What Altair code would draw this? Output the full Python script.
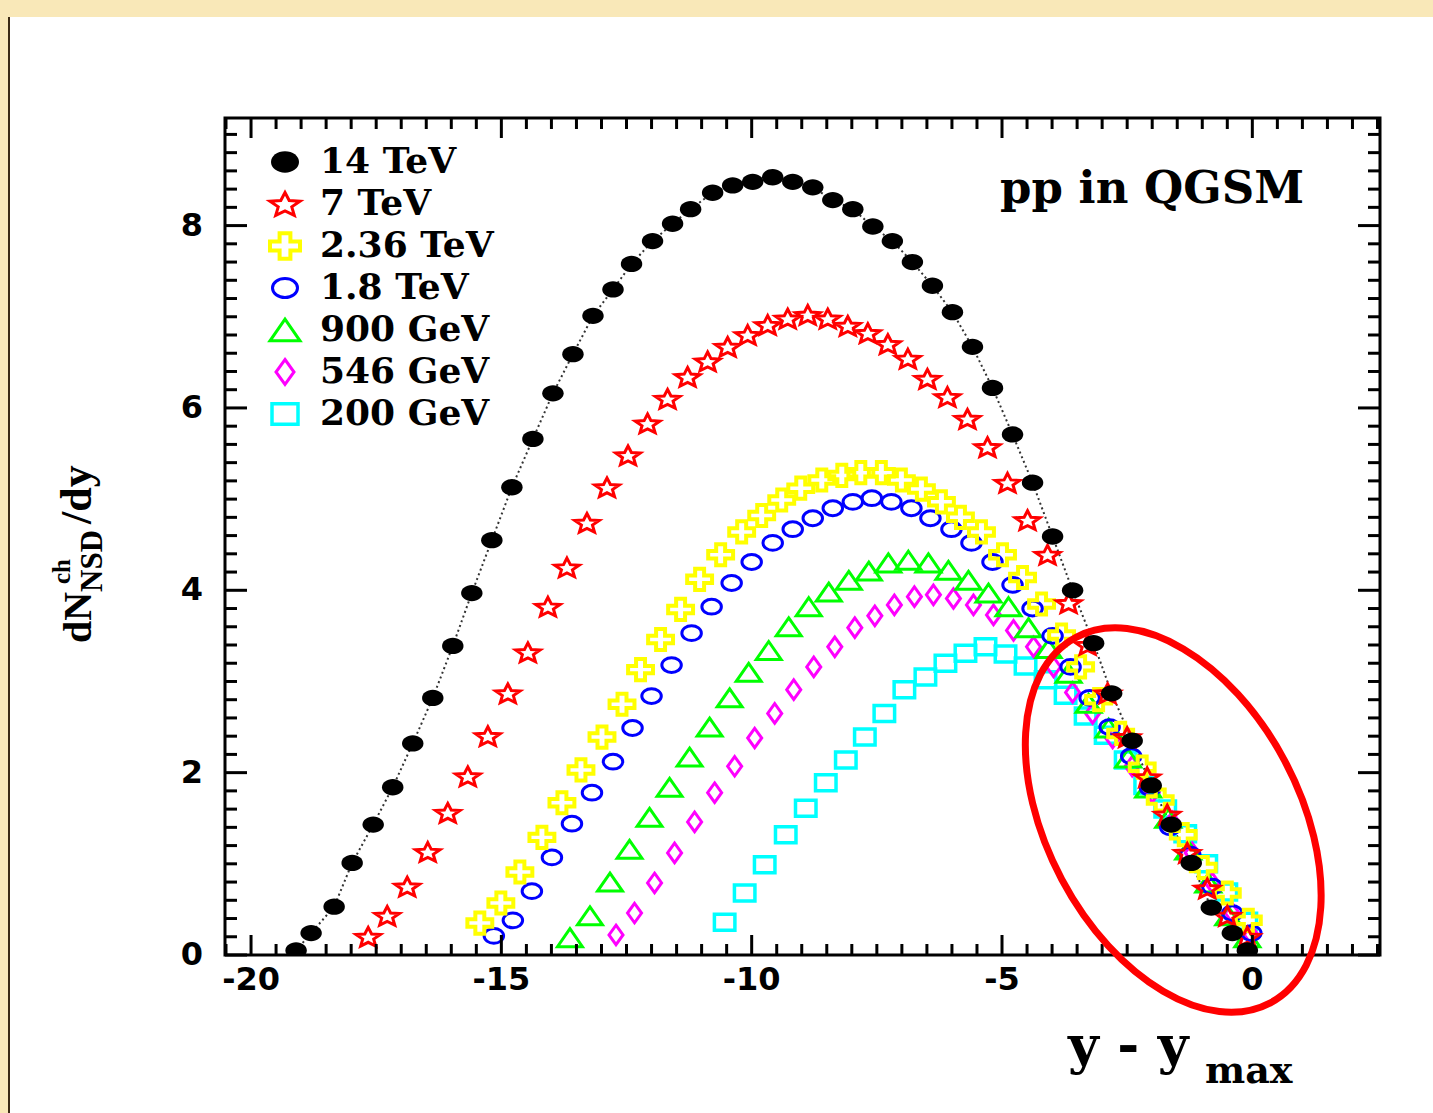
import altair as alt
import pandas as pd

# ---- charged-particle rapidity spectra, dN/dy vs (y - y_max) ----
x_14tev = [-19.10, -18.80, -18.34, -17.98, -17.56, -17.17, -16.77, -16.37, -15.97, -15.59,
           -15.19, -14.79, -14.37, -13.97, -13.57, -13.17, -12.77, -12.40, -11.98, -11.58,
           -11.22, -10.78, -10.38, -9.98, -9.58, -9.18, -8.78, -8.38, -7.98, -7.58,
           -7.19, -6.79, -6.39, -5.99, -5.59, -5.19, -4.79, -4.39, -3.99, -3.59,
           -3.17, -2.81, -2.40, -2.02, -1.62, -1.22, -0.82, -0.40, -0.10]
y_14tev = [0.05, 0.24, 0.53, 1.01, 1.43, 1.84, 2.32, 2.82, 3.39, 3.97,
           4.55, 5.13, 5.66, 6.16, 6.59, 7.01, 7.30, 7.58, 7.83, 8.02,
           8.18, 8.36, 8.44, 8.48, 8.53, 8.48, 8.42, 8.28, 8.18, 7.99,
           7.83, 7.60, 7.34, 7.05, 6.67, 6.22, 5.71, 5.18, 4.59, 4.00,
           3.42, 2.87, 2.35, 1.86, 1.43, 1.01, 0.52, 0.24, 0.05]

x_7tev = [-17.66, -17.28, -16.88, -16.47, -16.07, -15.67, -15.27, -14.87, -14.47, -14.07,
          -13.69, -13.29, -12.89, -12.47, -12.08, -11.68, -11.28, -10.88, -10.48, -10.08,
          -9.68, -9.28, -8.88, -8.48, -8.08, -7.68, -7.28, -6.88, -6.49, -6.09,
          -5.69, -5.29, -4.89, -4.49, -4.09, -3.67, -3.29, -2.89, -2.50, -2.10,
          -1.70, -1.30, -0.90, -0.50, -0.10]
y_7tev = [0.20, 0.43, 0.75, 1.13, 1.56, 1.96, 2.40, 2.87, 3.32, 3.82,
          4.25, 4.74, 5.13, 5.48, 5.83, 6.10, 6.34, 6.51, 6.67, 6.80,
          6.91, 6.98, 7.02, 6.98, 6.90, 6.82, 6.70, 6.54, 6.32, 6.12,
          5.88, 5.57, 5.18, 4.77, 4.39, 3.86, 3.40, 2.87, 2.39, 1.95,
          1.54, 1.12, 0.73, 0.43, 0.20]

x_236tev = [-15.43, -15.01, -14.63, -14.19, -13.79, -13.41, -12.99, -12.59, -12.22, -11.82,
            -11.42, -11.04, -10.62, -10.20, -9.80, -9.40, -9.02, -8.60, -8.20, -7.82,
            -7.41, -7.01, -6.61, -6.21, -5.83, -5.41, -4.99, -4.59, -4.21, -3.81,
            -3.43, -3.07, -2.63, -2.20, -1.84, -1.38, -0.98, -0.50, -0.08]
y_236tev = [0.35, 0.57, 0.91, 1.29, 1.67, 2.03, 2.39, 2.75, 3.13, 3.46,
            3.79, 4.12, 4.39, 4.64, 4.82, 4.99, 5.12, 5.21, 5.26, 5.29,
            5.29, 5.21, 5.11, 4.97, 4.80, 4.64, 4.39, 4.14, 3.85, 3.51,
            3.16, 2.80, 2.43, 2.06, 1.70, 1.32, 0.96, 0.68, 0.38]

x_18tev = [-15.15, -14.77, -14.39, -13.99, -13.59, -13.19, -12.77, -12.38, -12.00, -11.60,
           -11.20, -10.80, -10.40, -10.00, -9.58, -9.18, -8.78, -8.38, -7.98, -7.60,
           -7.21, -6.81, -6.43, -6.01, -5.61, -5.19, -4.79, -4.39, -3.99, -3.63,
           -3.25, -2.85, -2.42, -2.04, -1.64, -1.24, -0.80, -0.40, -0.02]
y_18tev = [0.21, 0.38, 0.70, 1.07, 1.44, 1.78, 2.12, 2.49, 2.84, 3.18,
           3.53, 3.82, 4.08, 4.31, 4.52, 4.67, 4.79, 4.90, 4.97, 5.01,
           4.97, 4.90, 4.79, 4.67, 4.52, 4.31, 4.06, 3.80, 3.50, 3.16,
           2.82, 2.50, 2.18, 1.83, 1.40, 1.10, 0.75, 0.46, 0.24]

x_900gev = [-13.63, -13.23, -12.83, -12.44, -12.04, -11.64, -11.24, -10.84, -10.44, -10.06,
            -9.66, -9.26, -8.86, -8.46, -8.06, -7.66, -7.27, -6.87, -6.47, -6.07,
            -5.67, -5.27, -4.87, -4.47, -4.07, -3.67, -3.27, -2.87, -2.48, -2.08,
            -1.68, -1.28, -0.88, -0.48, -0.10]
y_900gev = [0.19, 0.43, 0.80, 1.16, 1.51, 1.84, 2.17, 2.50, 2.82, 3.10,
            3.34, 3.60, 3.82, 3.98, 4.11, 4.21, 4.30, 4.33, 4.30, 4.22,
            4.11, 3.97, 3.82, 3.59, 3.36, 3.09, 2.76, 2.49, 2.16, 1.83,
            1.50, 1.15, 0.79, 0.43, 0.19]

x_546gev = [-12.71, -12.34, -11.94, -11.54, -11.14, -10.74, -10.34, -9.94, -9.54, -9.16,
            -8.76, -8.34, -7.94, -7.54, -7.15, -6.75, -6.37, -5.97, -5.57, -5.17,
            -4.77, -4.37, -3.97, -3.59, -3.19, -2.79, -2.40, -2.00, -1.60, -1.20,
            -0.80, -0.40, -0.02]
y_546gev = [0.22, 0.46, 0.79, 1.12, 1.46, 1.78, 2.07, 2.38, 2.65, 2.91,
            3.16, 3.38, 3.59, 3.72, 3.84, 3.93, 3.95, 3.91, 3.84, 3.73,
            3.56, 3.38, 3.16, 2.88, 2.65, 2.38, 2.07, 1.78, 1.46, 1.12,
            0.79, 0.46, 0.22]

x_200gev = [-10.54, -10.14, -9.74, -9.32, -8.92, -8.52, -8.12, -7.74, -7.35, -6.95,
            -6.53, -6.13, -5.73, -5.33, -4.93, -4.53, -4.13, -3.73, -3.33, -2.93,
            -2.53, -2.14, -1.74, -1.34, -0.92, -0.52, -0.12]
y_200gev = [0.36, 0.68, 0.99, 1.32, 1.61, 1.89, 2.14, 2.39, 2.65, 2.91,
            3.05, 3.20, 3.31, 3.38, 3.30, 3.17, 3.02, 2.85, 2.62, 2.41,
            2.14, 1.86, 1.60, 1.33, 1.00, 0.69, 0.37]

labels = ["14 TeV", "7 TeV", "2.36 TeV", "1.8 TeV", "900 GeV", "546 GeV", "200 GeV"]
colors = ["#000000", "#FF0000", "#FFFF00", "#0000FF", "#00FF00", "#FF00FF", "#00FFFF"]

# axis ticks and their labels
x_major = [-20, -15, -10, -5, 0]
x_tick_labels = ["-20", "-15", "-10", "-5", "0"]
y_major = [0, 2, 4, 6, 8]
y_tick_labels = ["0", "2", "4", "6", "8"]
x_minor = [round(-20.5 + 0.5 * i, 2) for i in range(47) if (-20.5 + 0.5 * i) % 5 != 0]
y_minor = [round(0.2 * i, 2) for i in range(46) if round(0.2 * i, 2) % 2 != 0]

# highlighted region (centre of the red ring, data units)
ring_x = [-1.58]
ring_y = [1.48]

# marker outlines in a unit box (scaled by the symbol size)
DOT = "M -1 0 A 1 0.76 0 1 1 1 0 A 1 0.76 0 1 1 -1 0 Z"
STAR = ("M 0 -0.73 L 0.265 -0.22 L 0.951 -0.18 L 0.428 0.18 L 0.588 0.72 L 0 0.43 "
        "L -0.588 0.72 L -0.428 0.18 L -0.951 -0.18 L -0.265 -0.22 Z")
CROSS = ("M -0.36 -0.85 L 0.36 -0.85 L 0.36 -0.3 L 1 -0.3 L 1 0.3 L 0.36 0.3 L 0.36 0.85 "
         "L -0.36 0.85 L -0.36 0.3 L -1 0.3 L -1 -0.3 L -0.36 -0.3 Z")
TRIANGLE = "M 0 -0.72 L 1 0.72 L -1 0.72 Z"
DIAMOND = "M 0 -1 L 0.72 0 L 0 1 L -0.72 0 Z"
SQUARE = "M -1 -0.78 L 1 -0.78 L 1 0.78 L -1 0.78 Z"
RING = "M 0 -1 A 0.61 1 0 1 1 0 1 A 0.61 1 0 1 1 0 -1 Z"

W, H = 1155, 837
xs = alt.Scale(domain=[-20.52, 2.55], nice=False, zero=False)
ys = alt.Scale(domain=[0, 9.18], nice=False, zero=False)

SERIF = "DejaVu Serif"
SANS = "DejaVu Sans"
one = pd.DataFrame({"k": [0]})


def rect(x0, x1, y0, y1, color):
    return alt.Chart(one).mark_rect(color=color).encode(
        x=alt.value(x0), x2=alt.value(x1), y=alt.value(y0), y2=alt.value(y1))


def text(t, x, y, size, font, angle=0, align="left", baseline="alphabetic"):
    df = pd.DataFrame({"t": [t]})
    return alt.Chart(df).mark_text(
        text=t, align=align, baseline=baseline, font=font, fontSize=size,
        fontWeight="bold", angle=angle, color="black"
    ).encode(x=alt.value(x), y=alt.value(y))


def series(xv, yv, shape, color, size, filled, sw):
    df = pd.DataFrame({"x": xv, "y": yv})
    if filled:
        mk = alt.Chart(df).mark_point(shape=shape, size=size, filled=True, color=color,
                                      strokeWidth=0, opacity=1, clip=True)
    else:
        mk = alt.Chart(df).mark_point(shape=shape, size=size, filled=False, color=color,
                                      strokeWidth=sw, strokeJoin="miter", opacity=1, clip=True)
    return mk.encode(x=alt.X("x:Q", scale=xs, axis=None),
                     y=alt.Y("y:Q", scale=ys, axis=None))


# background of the slide
layers = [
    rect(-225, 1208, -118, -101, "#F9E8B8"),
    rect(-225, -217, -101, 995, "#F9E8B8"),
    rect(-217, -215, -101, 995, "#3A2A14"),
]

# dotted guide through the 14 TeV points
line_df = pd.DataFrame({"x": x_14tev, "y": y_14tev})
layers.append(
    alt.Chart(line_df).mark_line(color="#333333", strokeWidth=2, strokeDash=[2, 3]).encode(
        x=alt.X("x:Q", scale=xs, axis=None),
        y=alt.Y("y:Q", scale=ys, axis=None),
    )
)

styles = {
    "14 TeV": (DOT, 460, True, 0, 784),
    "7 TeV": (STAR, 660, False, 3, 1000),
    "2.36 TeV": (CROSS, 620, False, 4, 900),
    "1.8 TeV": (DOT, 380, False, 3, 625),
    "900 GeV": (TRIANGLE, 620, False, 3, 900),
    "546 GeV": (DIAMOND, 380, False, 3, 625),
    "200 GeV": (SQUARE, 420, False, 3.5, 676),
}
data = {
    "14 TeV": (x_14tev, y_14tev),
    "7 TeV": (x_7tev, y_7tev),
    "2.36 TeV": (x_236tev, y_236tev),
    "1.8 TeV": (x_18tev, y_18tev),
    "900 GeV": (x_900gev, y_900gev),
    "546 GeV": (x_546gev, y_546gev),
    "200 GeV": (x_200gev, y_200gev),
}

# lowest energy drawn first, 14 TeV on top
for name, color in reversed(list(zip(labels, colors))):
    shape, size, filled, sw, _ = styles[name]
    xv, yv = data[name]
    layers.append(series(xv, yv, shape, color, size, filled, sw))


# ticks on all four sides, pointing inwards
def xticks(vals, y0, y1):
    return alt.Chart(pd.DataFrame({"v": vals})).mark_rule(color="black", strokeWidth=3).encode(
        x=alt.X("v:Q", scale=xs, axis=None), y=alt.value(y0), y2=alt.value(y1))


def yticks(vals, x0, x1):
    return alt.Chart(pd.DataFrame({"v": vals})).mark_rule(color="black", strokeWidth=3).encode(
        y=alt.Y("v:Q", scale=ys, axis=None), x=alt.value(x0), x2=alt.value(x1))


layers += [
    xticks(x_major, H, H - 20), xticks(x_minor, H, H - 11),
    xticks(x_major, 0, 20), xticks(x_minor, 0, 11),
    yticks(y_major, 0, 22), yticks(y_minor, 0, 12),
    yticks(y_major, W, W - 22), yticks(y_minor, W, W - 12),
]

# tick labels
xl_df = pd.DataFrame({"v": x_major, "t": x_tick_labels})
layers.append(
    alt.Chart(xl_df).mark_text(align="center", baseline="middle", font=SANS, fontSize=32,
                               fontWeight="bold", color="black").encode(
        x=alt.X("v:Q", scale=xs, axis=None), y=alt.value(H + 25), text="t:N")
)
yl_df = pd.DataFrame({"v": y_major, "t": y_tick_labels})
layers.append(
    alt.Chart(yl_df).mark_text(align="right", baseline="middle", font=SANS, fontSize=32,
                               fontWeight="bold", color="black").encode(
        y=alt.Y("v:Q", scale=ys, axis=None), x=alt.value(-22), text="t:N")
)

# legend
for i, (name, color) in enumerate(zip(labels, colors)):
    shape, _, filled, sw, lsize = styles[name]
    ly = 44 + i * 42
    if filled:
        mk = alt.Chart(one).mark_point(shape=shape, size=lsize, filled=True, color=color,
                                       strokeWidth=0, opacity=1)
    else:
        mk = alt.Chart(one).mark_point(shape=shape, size=lsize, filled=False, color=color,
                                       strokeWidth=sw, strokeJoin="miter", opacity=1)
    layers.append(mk.encode(x=alt.value(60), y=alt.value(ly)))
    layers.append(text(name, 95, ly, 36, SERIF, baseline="middle"))

# annotations
layers.append(text("pp in QGSM", 775, 85, 45, SERIF))
layers.append(text("y - y", 843, 945, 53, SERIF))
layers.append(text("max", 980, 965, 38, SERIF))

# vertical title dN^ch_NSD / dy
layers.append(text("dN", -134, 525, 40, "Liberation Serif", angle=270))
layers.append(text("NSD", -123, 474, 31, "Liberation Serif", angle=270))
layers.append(text("ch", -155, 466, 25, "Liberation Serif", angle=270))
layers.append(text("/dy", -134, 406, 44, "Liberation Serif", angle=270))

# red ring around the region where the spectra coincide
ring_df = pd.DataFrame({"x": ring_x, "y": ring_y})
layers.append(
    alt.Chart(ring_df).mark_point(shape=RING, size=171396, angle=332, filled=False,
                                  color="#FF0000", strokeWidth=7, opacity=1).encode(
        x=alt.X("x:Q", scale=xs, axis=None), y=alt.Y("y:Q", scale=ys, axis=None))
)

chart = alt.layer(*layers).properties(
    width=W, height=H,
    padding={"left": 225, "top": 118, "right": 53, "bottom": 158},
    autosize=alt.AutoSizeParams(type="none"),
    background="white",
).configure_view(stroke="black", strokeWidth=3)

chart.save("out.html", embed_options={"renderer": "svg", "actions": False})
